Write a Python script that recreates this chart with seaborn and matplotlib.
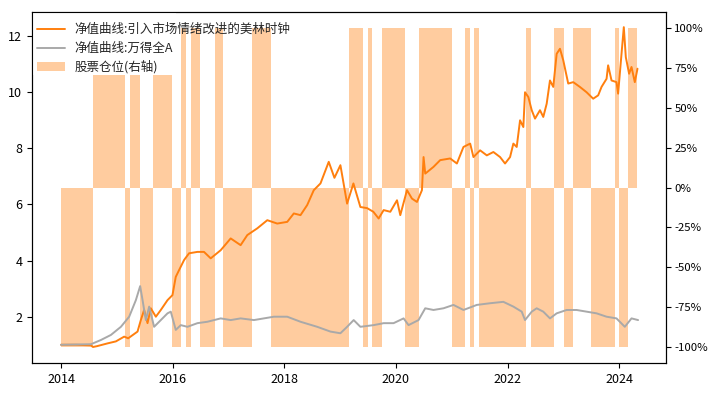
import numpy as np
import pandas as pd
import matplotlib
matplotlib.use("Agg")
import matplotlib.pyplot as plt
import matplotlib.ticker as mtick
from matplotlib.patches import Patch, Rectangle
import seaborn as sns

# ---- data (decimal years) ----
strat_t = [2014.000, 2014.268, 2014.536, 2014.572, 2014.644, 2014.835, 2014.983, 2015.132, 2015.203, 2015.287,
           2015.371, 2015.430, 2015.489, 2015.550, 2015.609, 2015.699, 2015.788, 2015.908, 2015.997, 2016.056,
           2016.115, 2016.205, 2016.294, 2016.444, 2016.562, 2016.682, 2016.861, 2017.040, 2017.218, 2017.338,
           2017.517, 2017.696, 2017.874, 2018.053, 2018.171, 2018.291, 2018.411, 2018.529, 2018.649, 2018.797,
           2018.899, 2019.006, 2019.126, 2019.239, 2019.364, 2019.484, 2019.596, 2019.691, 2019.781, 2019.900,
           2020.020, 2020.079, 2020.199, 2020.288, 2020.378, 2020.467, 2020.496, 2020.526, 2020.674, 2020.794,
           2020.973, 2021.093, 2021.211, 2021.331, 2021.390, 2021.509, 2021.629, 2021.747, 2021.867, 2021.956,
           2022.046, 2022.105, 2022.165, 2022.225, 2022.284, 2022.314, 2022.373, 2022.434, 2022.493, 2022.582,
           2022.641, 2022.702, 2022.761, 2022.820, 2022.881, 2022.940, 2022.999, 2023.088, 2023.178, 2023.297,
           2023.417, 2023.535, 2023.625, 2023.685, 2023.775, 2023.803, 2023.864, 2023.953, 2023.982, 2024.043,
           2024.084, 2024.120, 2024.179, 2024.222, 2024.281, 2024.329]
strat_v = [1.00, 1.00, 0.98, 0.92, 0.95, 1.05, 1.12, 1.29, 1.23, 1.35,
           1.47, 1.88, 2.24, 1.77, 2.30, 2.00, 2.24, 2.59, 2.77, 3.42,
           3.66, 4.02, 4.26, 4.31, 4.31, 4.08, 4.37, 4.79, 4.55, 4.91,
           5.15, 5.44, 5.32, 5.38, 5.68, 5.62, 5.98, 6.51, 6.75, 7.52,
           6.95, 7.40, 6.03, 6.75, 5.91, 5.87, 5.74, 5.50, 5.80, 5.74,
           6.15, 5.62, 6.51, 6.21, 6.09, 6.51, 7.69, 7.10, 7.34, 7.58,
           7.64, 7.46, 8.05, 8.17, 7.69, 7.93, 7.75, 7.87, 7.69, 7.46,
           7.69, 8.17, 8.05, 9.00, 8.76, 10.00, 9.83, 9.36, 9.06, 9.36,
           9.12, 9.59, 10.42, 10.19, 11.37, 11.55, 11.14, 10.31, 10.36, 10.19,
           10.00, 9.77, 9.89, 10.19, 10.48, 10.96, 10.42, 10.36, 9.95, 11.37,
           12.32, 11.25, 10.66, 10.90, 10.36, 10.84]

wind_t = [2014.000, 2014.536, 2014.715, 2014.894, 2015.073, 2015.221, 2015.341, 2015.418, 2015.461, 2015.520,
          2015.579, 2015.668, 2015.788, 2015.908, 2015.967, 2016.056, 2016.146, 2016.265, 2016.444, 2016.623,
          2016.861, 2017.040, 2017.218, 2017.456, 2017.814, 2018.053, 2018.291, 2018.590, 2018.827, 2019.006,
          2019.126, 2019.244, 2019.364, 2019.602, 2019.781, 2019.959, 2020.138, 2020.227, 2020.406, 2020.526,
          2020.674, 2020.853, 2021.032, 2021.211, 2021.450, 2021.688, 2021.926, 2022.105, 2022.255, 2022.314,
          2022.434, 2022.523, 2022.641, 2022.761, 2022.881, 2023.060, 2023.238, 2023.417, 2023.596, 2023.775,
          2023.953, 2024.102, 2024.222, 2024.340]
wind_v = [1.00, 1.02, 1.17, 1.35, 1.64, 2.00, 2.59, 3.09, 2.59, 1.88,
          2.36, 1.64, 1.88, 2.12, 2.18, 1.53, 1.70, 1.64, 1.77, 1.82,
          1.94, 1.88, 1.94, 1.88, 2.00, 2.00, 1.82, 1.64, 1.47, 1.41,
          1.64, 1.88, 1.64, 1.70, 1.77, 1.77, 1.94, 1.70, 1.88, 2.30,
          2.24, 2.30, 2.42, 2.24, 2.42, 2.48, 2.53, 2.36, 2.18, 1.88,
          2.18, 2.30, 2.18, 1.94, 2.12, 2.24, 2.24, 2.18, 2.12, 2.00,
          1.94, 1.64, 1.94, 1.88]

# position switch dates and the position held from that date on
pos_start = [2014.000, 2014.567, 2015.148, 2015.239, 2015.407, 2015.657, 2015.997, 2016.158, 2016.235, 2016.324,
             2016.491, 2016.753, 2016.909, 2017.415, 2017.755, 2019.155, 2019.412, 2019.494, 2019.575, 2019.752,
             2020.163, 2020.410, 2021.009, 2021.241, 2021.336, 2021.408, 2021.497, 2022.328, 2022.421, 2022.833,
             2023.011, 2023.167, 2023.500, 2023.923, 2024.000, 2024.168]
pos_end_last = 2024.329
pos_value = [-1, 1, -1, 1, -1, 1, -1, 1, -1, 1,
             -1, 1, -1, 1, -1, 1, -1, 1, -1, 1,
             -1, 1, -1, 1, -1, 1, -1, 1, -1, 1,
             -1, 1, -1, 1, -1, 1]

year_ticks = [2014, 2016, 2018, 2020, 2022, 2024]
left_ticks = [2, 4, 6, 8, 10, 12]
right_ticks = [-1.0, -0.75, -0.5, -0.25, 0.0, 0.25, 0.5, 0.75, 1.0]

label_strat = "净值曲线:引入市场情绪改进的美林时钟"
label_wind = "净值曲线:万得全A"
label_pos = "股票仓位(右轴)"

# ---- style ----
sns.set_style("ticks")
plt.rcParams["font.family"] = ["Noto Sans CJK SC", "DejaVu Sans"]
plt.rcParams["axes.unicode_minus"] = False

strat = pd.DataFrame({"t": strat_t, "v": strat_v})
wind = pd.DataFrame({"t": wind_t, "v": wind_v})
pos_widths = list(np.diff(pos_start + [pos_end_last]))

fig, ax = plt.subplots(figsize=(7.08, 3.93), dpi=100)
fig.subplots_adjust(left=32/708, right=666/708, bottom=1-363/393, top=1-12/393)

orange = "#ff7f0e"
peach = "#ffcc9f"
grey = "#a9a9a9"

sns.lineplot(data=strat, x="t", y="v", ax=ax, color=orange, lw=1.4, label=label_strat, zorder=3)
sns.lineplot(data=wind, x="t", y="v", ax=ax, color=grey, lw=1.4, label=label_wind, zorder=3)
ax.set_xlabel("")
ax.set_ylabel("")
ax.set_xlim(2013.48, 2024.84)
ax.set_ylim(0.35, 12.86)
ax.set_xticks(year_ticks)
ax.set_xticklabels([str(y) for y in year_ticks])
ax.set_yticks(left_ticks)

ax2 = ax.twinx()
ax2.bar(pos_start, pos_value, width=pos_widths, align="edge", color=peach, linewidth=0, zorder=1)
ax2.set_ylim(-1.1, 1.1)
ax2.set_yticks(right_ticks)
ax2.yaxis.set_major_formatter(mtick.PercentFormatter(1.0, decimals=0))

# lines drawn above the bars
ax.set_zorder(ax2.get_zorder() + 1)
ax.patch.set_visible(False)

ax.tick_params(labelsize=9, length=3.5, width=0.8, colors="black")
ax2.tick_params(labelsize=8.2, length=3.5, width=0.8, pad=2.5, colors="black")
for a in (ax, ax2):
    for s in a.spines.values():
        s.set_linewidth(0.8)
        s.set_color("black")

# white legend background (covers the bars only in the upper-left corner, as in the reference)
ax.add_patch(Rectangle((0.0, 0.82), 0.227, 0.18, transform=ax.transAxes,
                       facecolor="white", edgecolor="none", zorder=2))

handles, labels = ax.get_legend_handles_labels()
handles.append(Patch(facecolor=peach, edgecolor="none"))
labels.append(label_pos)
leg = ax.legend(handles, labels, loc="upper left", bbox_to_anchor=(-0.0095, 1.0), fontsize=9,
                frameon=False, borderaxespad=0.5, handlelength=2.2, labelspacing=0.45)

fig.savefig("out.png", dpi=100)
